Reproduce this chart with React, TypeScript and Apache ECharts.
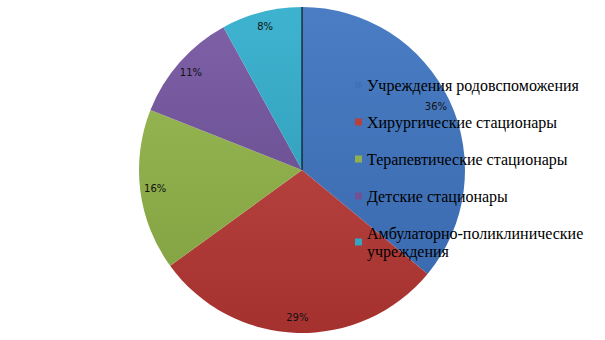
import React, { useEffect, useRef } from "react";
import * as echarts from "echarts";

const categories = [
  "Учреждения родовспоможения",
  "Хирургические стационары",
  "Терапевтические стационары",
  "Детские стационары",
  "Амбулаторно-поликлинические учреждения",
];
const values = [36, 29, 16, 11, 8];
const topColors = ["#4A7DC4", "#C4504D", "#9CBD59", "#7F61A8", "#3EB3D0"];
const bottomColors = ["#3867AC", "#A5312F", "#7F9E3E", "#5E4585", "#2B94AF"];
const flatColors = ["#3F72B8", "#B8403D", "#8FB04C", "#6F5296", "#35A4C0"];

const CX = 302;
const CY = 170;
const R = 163;

export default function App() {
  const ref = useRef<HTMLDivElement>(null);
  useEffect(() => {
    if (!ref.current) return;
    const chart = echarts.init(ref.current, null, { renderer: "svg" });
    const grad = (i: number) => ({
      type: "linear",
      x: 0,
      y: CY - R,
      x2: 0,
      y2: CY + R,
      global: true,
      colorStops: [
        { offset: 0, color: topColors[i] },
        { offset: 1, color: bottomColors[i] },
      ],
    });
    const data = categories.map((name, i) => ({
      name,
      value: values[i],
      itemStyle: { color: grad(i) },
    }));
    const labelData = categories.map((name, i) => ({ name, value: values[i] }));
    chart.setOption({
      animation: false,
      legend: {
        orient: "vertical",
        left: 355,
        top: 76,
        padding: 0,
        itemWidth: 7,
        itemHeight: 7,
        itemGap: 19,
        icon: "rect",
        selectedMode: false,
        data: categories.map((name, i) => ({
          name,
          itemStyle: { color: flatColors[i] },
        })),
        formatter: (name: string) =>
          name === categories[4] ? name.replace(" ", "\n") : name,
        textStyle: {
          fontFamily: "Liberation Serif",
          fontSize: 16,
          lineHeight: 18,
          color: "#000",
        },
      },
      series: [
        {
          type: "pie",
          center: [CX, CY],
          radius: [0, R],
          startAngle: 90,
          clockwise: true,
          silent: true,
          label: { show: false },
          labelLine: { show: false },
          itemStyle: { borderWidth: 0 },
          data,
        },
        {
          type: "pie",
          center: [CX, CY],
          radius: [R - 36, R],
          startAngle: 90,
          clockwise: true,
          silent: true,
          itemStyle: { color: "rgba(0,0,0,0)", borderWidth: 0 },
          label: {
            show: true,
            position: "inside",
            formatter: "{d}%",
            fontFamily: "DejaVu Sans",
            fontSize: 10,
            color: "#111",
          },
          labelLine: { show: false },
          data: labelData,
        },
      ],
      graphic: [
        {
          type: "line",
          shape: { x1: CX, y1: CY - R, x2: CX, y2: CY },
          style: { stroke: "#000", lineWidth: 1 },
          z: 100,
        },
      ],
    });
    return () => chart.dispose();
  }, []);
  return (
    <div
      ref={ref}
      style={{ position: "absolute", left: 0, top: 0, width: 605, height: 340 }}
    />
  );
}
